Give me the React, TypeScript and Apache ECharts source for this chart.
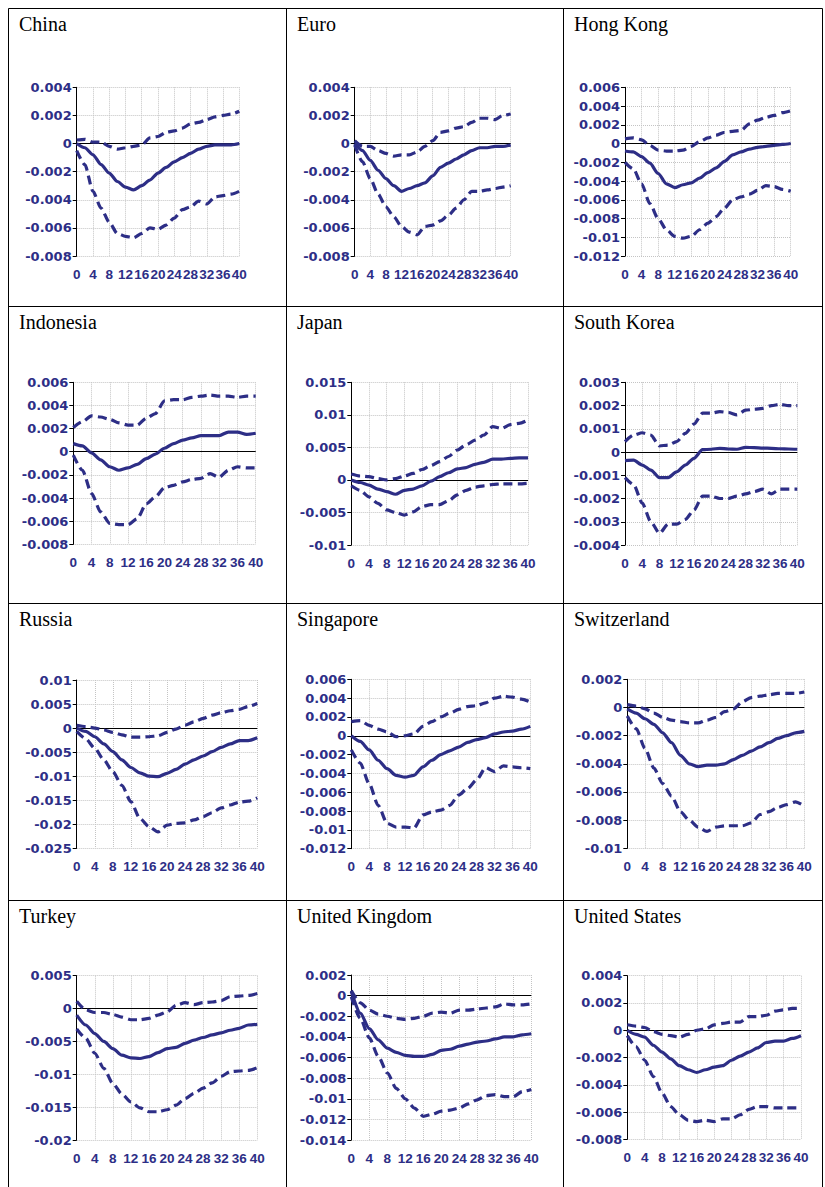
import React, { useEffect, useRef } from "react";
import * as echarts from "echarts";

const STEPS = [0, 2, 4, 6, 8, 10, 12, 14, 16, 18, 20, 22, 24, 26, 28, 30, 32, 34, 36, 38, 40];

const chinaMid = [0, -0.0003, -0.0008, -0.0015, -0.0021, -0.0027, -0.0031, -0.0033, -0.003, -0.0026, -0.0021, -0.0017, -0.0013, -0.001, -0.0007, -0.0004, -0.0002, -0.0001, -0.0001, -0.0001, 0];
const chinaUp = [0.00025, 0.0003, 0.0001, 0.0001, -0.0002, -0.0004, -0.0003, -0.0002, -0.0001, 0.0004, 0.0005, 0.0008, 0.0009, 0.0011, 0.0014, 0.0015, 0.0017, 0.0019, 0.002, 0.0021, 0.0023];
const chinaLo = [-0.0005, -0.0015, -0.0034, -0.0046, -0.0056, -0.0064, -0.0066, -0.0067, -0.0064, -0.006, -0.0061, -0.0058, -0.0053, -0.0047, -0.0045, -0.0041, -0.0043, -0.0038, -0.0037, -0.0036, -0.0034];

const euroMid = [0, -0.0005, -0.0012, -0.0019, -0.0025, -0.003, -0.0034, -0.0032, -0.003, -0.0028, -0.0023, -0.0017, -0.0014, -0.0011, -0.0008, -0.0005, -0.0003, -0.0003, -0.0002, -0.0002, -0.0001];
const euroUp = [0.0002, -0.0002, -0.0002, -0.0005, -0.0007, -0.0009, -0.0008, -0.0008, -0.0006, -0.0002, 0.0002, 0.0008, 0.0009, 0.0011, 0.0012, 0.0015, 0.0018, 0.0018, 0.0017, 0.002, 0.0021];
const euroLo = [-0.0001, -0.0013, -0.0025, -0.0036, -0.0045, -0.0052, -0.0059, -0.0063, -0.0065, -0.0059, -0.0058, -0.0055, -0.0051, -0.0046, -0.004, -0.0034, -0.0034, -0.0033, -0.0032, -0.0031, -0.003];

const hkMid = [-0.0008, -0.0009, -0.0014, -0.0021, -0.0032, -0.0043, -0.0047, -0.0044, -0.0042, -0.0037, -0.0031, -0.0026, -0.0019, -0.0012, -0.0009, -0.0006, -0.0004, -0.0003, -0.0002, -0.0001, 0];
const hkUp = [0.0005, 0.0006, 0.0004, -0.0002, -0.0007, -0.0008, -0.0008, -0.0007, -0.0003, 0.0002, 0.0006, 0.0009, 0.0012, 0.0013, 0.0014, 0.0021, 0.0025, 0.0028, 0.003, 0.0033, 0.0035];
const hkLo = [-0.002, -0.0027, -0.0043, -0.0064, -0.008, -0.0092, -0.0099, -0.0101, -0.0099, -0.0092, -0.0085, -0.0078, -0.0069, -0.006, -0.0057, -0.0054, -0.005, -0.0045, -0.0046, -0.0049, -0.0051];

const indoMid = [0.0007, 0.0005, -0.0001, -0.0007, -0.0013, -0.0016, -0.0014, -0.0011, -0.0006, -0.0002, 0.0003, 0.0007, 0.001, 0.0012, 0.0014, 0.0014, 0.0014, 0.0017, 0.0017, 0.0015, 0.0016];
const indoUp = [0.0021, 0.0026, 0.0031, 0.003, 0.0028, 0.0025, 0.0023, 0.0023, 0.0029, 0.0033, 0.0044, 0.0045, 0.0045, 0.0047, 0.0048, 0.0049, 0.0048, 0.0048, 0.0047, 0.0048, 0.0048];
const indoLo = [-0.0003, -0.0016, -0.0036, -0.0052, -0.0062, -0.0063, -0.0063, -0.0058, -0.0045, -0.0039, -0.0031, -0.0029, -0.0026, -0.0024, -0.0023, -0.0019, -0.0022, -0.0016, -0.0013, -0.0014, -0.0014];

const japanMid = [0, -0.0004, -0.0008, -0.0014, -0.0018, -0.0022, -0.0016, -0.0014, -0.0009, -0.0002, 0.0005, 0.0011, 0.0017, 0.0019, 0.0024, 0.0027, 0.0032, 0.0032, 0.0033, 0.0034, 0.0034];
const japanUp = [0.0009, 0.0006, 0.0005, 0.0002, 0, 0.0002, 0.0006, 0.001, 0.0016, 0.0022, 0.0028, 0.0036, 0.0046, 0.0054, 0.0061, 0.0069, 0.0082, 0.0079, 0.0085, 0.0087, 0.0092];
const japanLo = [-0.0009, -0.0016, -0.0026, -0.0036, -0.0046, -0.005, -0.0054, -0.0049, -0.0041, -0.0038, -0.0038, -0.0032, -0.0023, -0.0016, -0.0011, -0.0009, -0.0007, -0.0006, -0.0006, -0.0006, -0.0005];

const koreaMid = [-0.00037, -0.00035, -0.00056, -0.00078, -0.0011, -0.0011, -0.00085, -0.00056, -0.00027, 0.0001, 0.00012, 0.00016, 0.00013, 0.00012, 0.0002, 0.00019, 0.00017, 0.00016, 0.00014, 0.00013, 0.00012];
const koreaUp = [0.00045, 0.00073, 0.00083, 0.00073, 0.00026, 0.0003, 0.00045, 0.0008, 0.0012, 0.00167, 0.00167, 0.00174, 0.0017, 0.0016, 0.0018, 0.00184, 0.00188, 0.002, 0.00205, 0.002, 0.002];
const koreaLo = [-0.0011, -0.0014, -0.0022, -0.003, -0.0035, -0.0031, -0.0031, -0.0029, -0.0025, -0.0019, -0.0019, -0.002, -0.002, -0.0019, -0.0018, -0.0017, -0.0016, -0.0018, -0.0016, -0.0016, -0.0016];

const russiaMid = [0, -0.0007, -0.0018, -0.0033, -0.0049, -0.0066, -0.0082, -0.0093, -0.01, -0.0101, -0.0094, -0.0086, -0.0075, -0.0066, -0.0058, -0.0049, -0.004, -0.0033, -0.0026, -0.0026, -0.002];
const russiaUp = [0.0006, 0.0003, 0, -0.0004, -0.0009, -0.0014, -0.0019, -0.0019, -0.0018, -0.0016, -0.0009, -0.0002, 0.0006, 0.0013, 0.002, 0.0027, 0.0032, 0.0036, 0.0039, 0.0045, 0.0051];
const russiaLo = [-0.0007, -0.0022, -0.0042, -0.0066, -0.0091, -0.0119, -0.0153, -0.0188, -0.0205, -0.0216, -0.0202, -0.0198, -0.0197, -0.0191, -0.0184, -0.0176, -0.0166, -0.016, -0.0154, -0.0152, -0.0145];

const singMid = [0, -0.0006, -0.0015, -0.0026, -0.0035, -0.0042, -0.0044, -0.0042, -0.0033, -0.0026, -0.002, -0.0016, -0.0012, -0.0007, -0.0004, -0.0002, 0.0002, 0.0004, 0.0005, 0.0007, 0.001];
const singUp = [0.0015, 0.0016, 0.0011, 0.0007, 0.0004, -0.0001, 0, 0.0002, 0.001, 0.0015, 0.002, 0.0024, 0.0028, 0.0031, 0.0032, 0.0035, 0.004, 0.0042, 0.0041, 0.0039, 0.0036];
const singLo = [-0.0015, -0.0029, -0.0051, -0.0074, -0.0093, -0.0097, -0.0097, -0.0098, -0.0084, -0.0081, -0.0079, -0.0074, -0.0063, -0.0056, -0.0047, -0.0034, -0.0038, -0.0032, -0.0033, -0.0034, -0.0035];

const swissMid = [-0.0001, -0.0004, -0.0008, -0.0012, -0.0018, -0.0025, -0.0034, -0.004, -0.0042, -0.0041, -0.0041, -0.004, -0.0037, -0.0034, -0.0031, -0.0028, -0.0025, -0.0022, -0.002, -0.0018, -0.0017];
const swissUp = [0.0002, 0.0001, -0.0001, -0.0004, -0.0007, -0.0009, -0.001, -0.0011, -0.0011, -0.0009, -0.0007, -0.0003, -0.0001, 0.0004, 0.0007, 0.0008, 0.0009, 0.001, 0.001, 0.001, 0.0011];
const swissLo = [-0.0006, -0.0015, -0.0029, -0.0043, -0.0054, -0.0063, -0.0074, -0.008, -0.0085, -0.0088, -0.0085, -0.0084, -0.0084, -0.0084, -0.0082, -0.0076, -0.0074, -0.0071, -0.0069, -0.0067, -0.007];

const turkeyMid = [-0.001, -0.0025, -0.0038, -0.005, -0.0061, -0.0071, -0.0075, -0.0076, -0.0073, -0.0067, -0.0061, -0.0059, -0.0053, -0.0048, -0.0044, -0.004, -0.0037, -0.0033, -0.003, -0.0025, -0.0024];
const turkeyUp = [0.0011, -0.0002, -0.0006, -0.0006, -0.0009, -0.0013, -0.0017, -0.0017, -0.0015, -0.001, -0.0005, 0.0005, 0.0009, 0.0006, 0.0009, 0.001, 0.0012, 0.0018, 0.0019, 0.002, 0.0023];
const turkeyLo = [-0.0031, -0.0045, -0.0068, -0.0091, -0.0114, -0.013, -0.0142, -0.0151, -0.0157, -0.0157, -0.0154, -0.0147, -0.0137, -0.0129, -0.0121, -0.0113, -0.0103, -0.0096, -0.0095, -0.0094, -0.009];

const ukMid = [0.0004, -0.0017, -0.0032, -0.0043, -0.0051, -0.0055, -0.0058, -0.0059, -0.0059, -0.0057, -0.0053, -0.0052, -0.0049, -0.0047, -0.0045, -0.0044, -0.0042, -0.004, -0.004, -0.0038, -0.0037];
const ukUp = [0.0005, -0.0007, -0.0014, -0.0018, -0.002, -0.0022, -0.0023, -0.0022, -0.002, -0.0017, -0.0016, -0.0017, -0.0014, -0.0014, -0.0013, -0.0012, -0.0011, -0.0008, -0.0009, -0.0009, -0.0008];
const ukLo = [-0.0001, -0.0022, -0.0041, -0.0059, -0.0075, -0.009, -0.01, -0.0109, -0.0117, -0.0115, -0.0112, -0.0111, -0.0109, -0.0105, -0.0101, -0.0097, -0.0096, -0.0098, -0.0098, -0.0093, -0.0091];

const usMid = [0, -0.0003, -0.0005, -0.0011, -0.0016, -0.0021, -0.0026, -0.0029, -0.0031, -0.0029, -0.0027, -0.0026, -0.0022, -0.0019, -0.0016, -0.0013, -0.0009, -0.0008, -0.0008, -0.0006, -0.0004];
const usUp = [0.0004, 0.0003, 0.0002, -0.0001, -0.0003, -0.0004, -0.0005, -0.0003, 0, 0.0001, 0.0004, 0.0005, 0.0006, 0.0006, 0.001, 0.001, 0.0011, 0.0014, 0.0015, 0.0016, 0.0016];
const usLo = [-0.0004, -0.0012, -0.0022, -0.0034, -0.0046, -0.0056, -0.0062, -0.0066, -0.0067, -0.0066, -0.0067, -0.0065, -0.0065, -0.0062, -0.0058, -0.0056, -0.0056, -0.0057, -0.0057, -0.0057, -0.0057];

const NAMES = ["China", "Euro", "Hong Kong", "Indonesia", "Japan", "South Korea", "Russia", "Singapore", "Switzerland", "Turkey", "United Kingdom", "United States"];
const MIDS = [chinaMid, euroMid, hkMid, indoMid, japanMid, koreaMid, russiaMid, singMid, swissMid, turkeyMid, ukMid, usMid];
const UPS = [chinaUp, euroUp, hkUp, indoUp, japanUp, koreaUp, russiaUp, singUp, swissUp, turkeyUp, ukUp, usUp];
const LOS = [chinaLo, euroLo, hkLo, indoLo, japanLo, koreaLo, russiaLo, singLo, swissLo, turkeyLo, ukLo, usLo];
const Y_MIN = [-0.008, -0.008, -0.012, -0.008, -0.01, -0.004, -0.025, -0.012, -0.01, -0.02, -0.014, -0.008];
const Y_MAX = [0.004, 0.004, 0.006, 0.006, 0.015, 0.003, 0.01, 0.006, 0.002, 0.005, 0.002, 0.004];
const Y_STEP = [0.002, 0.002, 0.002, 0.002, 0.005, 0.001, 0.005, 0.002, 0.002, 0.005, 0.002, 0.002];

// layout: [left, right, top, bottom] of each plot area in page px
const PLOTS = [
  [76.7, 239.3, 87.3, 256],
  [354.7, 510.7, 87.3, 256],
  [625, 790.7, 87.3, 256],
  [73.3, 255.7, 382.3, 544.3],
  [351.3, 528, 382.3, 545],
  [625, 797.3, 382.3, 545],
  [76.7, 257.3, 680, 848.3],
  [351.3, 530.3, 679.3, 848.7],
  [627.3, 804.3, 679.3, 848.3],
  [76.7, 257.3, 975.7, 1140],
  [351.3, 531.3, 975, 1140],
  [627.3, 801, 975.7, 1139.3],
];
const COL_X = [8.5, 286.5, 563.5, 822.5];
const ROW_Y = [8.5, 306.5, 603.5, 900.5];
const NAVY = "#2D2E86";
const Y_LABEL_FONT = "DejaVu Sans";
const X_LABEL_FONT = "Liberation Sans";

export default function App() {
  const ref = useRef<HTMLDivElement>(null);
  useEffect(() => {
    const chart = echarts.init(ref.current!, null, { renderer: "svg" });
    const fmt = (v: number) => String(Math.round(v * 1e6) / 1e6);
    const grid: any[] = [];
    const xAxis: any[] = [];
    const yAxis: any[] = [];
    const series: any[] = [];
    const graphic: any[] = [];
    PLOTS.forEach((p, i) => {
      grid.push({ left: p[0], top: p[2], width: p[1] - p[0], height: p[3] - p[2], containLabel: false });
      xAxis.push({
        type: "value", gridIndex: i, min: 0, max: 40, interval: 4,
        axisLine: { show: false }, axisTick: { show: false },
        splitLine: { show: true, lineStyle: { color: "#c4c4c4", type: "dotted", width: 1 } },
        axisLabel: {
          color: NAVY, fontFamily: X_LABEL_FONT, fontWeight: "bold", fontSize: 13.5, margin: 11,
          hideOverlap: false, showMinLabel: true, showMaxLabel: true,
        },
      });
      yAxis.push({
        type: "value", gridIndex: i, min: Y_MIN[i], max: Y_MAX[i], interval: Y_STEP[i],
        axisLine: { show: true, onZero: false, lineStyle: { color: "#000", width: 1 } },
        axisTick: { show: true, length: 4, lineStyle: { color: "#000" } },
        splitLine: { show: true, lineStyle: { color: "#c4c4c4", type: "dotted", width: 1 } },
        axisLabel: {
          color: NAVY, fontFamily: Y_LABEL_FONT, fontWeight: "bold", fontSize: 13, margin: 5,
          formatter: fmt, showMinLabel: true, showMaxLabel: true,
        },
      });
      const mk = (arr: number[], dashed: boolean, withZero: boolean) => {
        const s: any = {
          type: "line", xAxisIndex: i, yAxisIndex: i, showSymbol: false, symbol: "none",
          smooth: 0.25, smoothMonotone: "x",
          data: STEPS.map((x, j) => [x, arr[j]]),
          lineStyle: { color: NAVY, width: 3.2, type: dashed ? [9, 5] : "solid", cap: "butt" },
          z: 3,
        };
        if (withZero) {
          s.markLine = {
            silent: true, symbol: "none", label: { show: false },
            lineStyle: { color: "#000", width: 1, type: "solid" },
            data: [{ yAxis: 0 }],
            z: 2,
          };
        }
        return s;
      };
      series.push(mk(MIDS[i], false, true), mk(UPS[i], true, false), mk(LOS[i], true, false));
      const col = i % 3;
      const row = Math.floor(i / 3);
      graphic.push({
        type: "text", left: COL_X[col] + 10.5, top: ROW_Y[row] + 5,
        style: { text: NAMES[i], fontFamily: "Liberation Serif", fontSize: 20, fill: "#000" },
      });
    });
    COL_X.forEach((x) => {
      graphic.push({ type: "line", shape: { x1: x, y1: 8.5, x2: x, y2: 1187 }, style: { stroke: "#000", lineWidth: 1 } });
    });
    ROW_Y.forEach((y) => {
      graphic.push({ type: "line", shape: { x1: 8.5, y1: y, x2: 822.5, y2: y }, style: { stroke: "#000", lineWidth: 1 } });
    });
    chart.setOption({ animation: false, backgroundColor: "#fff", grid, xAxis, yAxis, series, graphic });
    return () => chart.dispose();
  }, []);
  return <div ref={ref} style={{ position: "absolute", left: 0, top: 0, width: 825, height: 1187 }} />;
}
